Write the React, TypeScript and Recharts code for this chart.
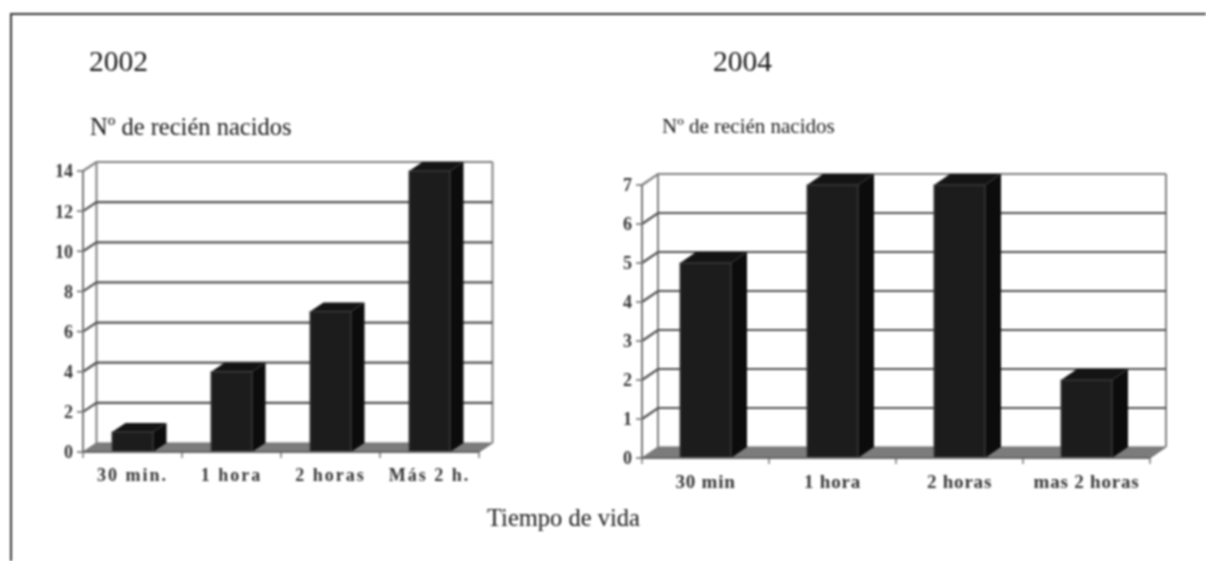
import React from 'react';
import { ComposedChart, Bar, XAxis, YAxis, CartesianGrid } from 'recharts';

const categories2002 = ['30 min.', '1 hora', '2 horas', 'Más 2 h.'];
const values2002 = [1, 4, 7, 14];
const ticks2002 = [0, 2, 4, 6, 8, 10, 12, 14];
const categories2004 = ['30 min', '1 hora', '2 horas', 'mas 2 horas'];
const values2004 = [5, 7, 7, 2];
const ticks2004 = [0, 1, 2, 3, 4, 5, 6, 7];

const SERIF = '"Liberation Serif", "Times New Roman", serif';
const GRID = '#505050';
const WALL = '#808080';

type PanelProps = {
  categories: string[]; values: number[]; ticks: number[];
  left: number; top: number; width: number; height: number;
  axisW: number; bottomH: number; marginTop: number; marginRight: number;
  dx: number; dy: number; barW: number; xFont: number; xSpacing: number; yFont: number; labelDy: number;
};

function Panel(p: PanelProps) {
  const { dx, dy } = p;
  const data = p.categories.map((name, i) => ({ name, value: p.values[i] }));
  const gridLine = (g: any) => {
    const y1 = g.y1, x1 = g.x1, x2 = g.x2;
    const isBottom = Math.abs(y1 - (g.y + g.height)) < 1;
    const isTop = Math.abs(y1 - g.y) < 1;
    return (
      <g key={g.key}>
        {isBottom && (
          <polygon
            points={`${x1},${y1} ${x2},${y1} ${x2 + dx},${y1 - dy} ${x1 + dx},${y1 - dy}`}
            fill="#7c7c7c"
            stroke="#6a6a6a"
          />
        )}
        {isBottom && (
          <g stroke={WALL} strokeWidth={2} fill="none">
            <line x1={x1 + dx} y1={y1 - dy} x2={x1 + dx} y2={g.y - dy} />
            <line x1={x2 + dx} y1={y1 - dy} x2={x2 + dx} y2={g.y - dy} />
          </g>
        )}
        <polyline
          points={`${x1},${y1} ${x1 + dx},${y1 - dy} ${x2 + dx},${y1 - dy}`}
          fill="none"
          stroke={isTop ? WALL : isBottom ? 'none' : GRID}
          strokeWidth={2.2}
        />
      </g>
    );
  };
  const barShape = (b: any) => {
    const { x, y, width, height } = b;
    return (
      <g>
        <polygon points={`${x},${y} ${x + width},${y} ${x + width + dx},${y - dy} ${x + dx},${y - dy}`} fill="#141414" />
        <polygon points={`${x + width},${y} ${x + width + dx},${y - dy} ${x + width + dx},${y + height - dy} ${x + width},${y + height}`} fill="#0c0c0c" />
        <rect x={x} y={y} width={width} height={height} fill="#1c1c1c" stroke="#484848" strokeWidth={1} />
      </g>
    );
  };
  const plotW = p.width - p.axisW - p.marginRight;
  const band = plotW / p.categories.length;
  const xTick = (t: any) => (
    <g>
      <line x1={t.x - band / 2} y1={t.y - 8} x2={t.x - band / 2} y2={t.y - 2} stroke="#555" strokeWidth={1.2} />
      {t.index === p.categories.length - 1 && (
        <line x1={t.x + band / 2} y1={t.y - 8} x2={t.x + band / 2} y2={t.y - 2} stroke="#555" strokeWidth={1.2} />
      )}
      <text x={t.x} y={t.y + p.labelDy} textAnchor="middle" fontFamily={SERIF} fontWeight="bold" fontSize={p.xFont} letterSpacing={p.xSpacing} fill="#333">
        {t.payload.value}
      </text>
    </g>
  );
  return (
    <div style={{ position: 'absolute', left: p.left, top: p.top }}>
      <ComposedChart
        width={p.width}
        height={p.height}
        data={data}
        margin={{ top: p.marginTop, right: p.marginRight, bottom: 0, left: 0 }}
        barSize={p.barW}
      >
        <CartesianGrid vertical={false} horizontal={gridLine as any} />
        <XAxis
          dataKey="name"
          height={p.bottomH}
          interval={0}
          tickLine={false}
          axisLine={{ stroke: '#666', strokeWidth: 2 }}
          tick={xTick as any}
        />
        <YAxis
          width={p.axisW}
          domain={[0, p.ticks[p.ticks.length - 1]]}
          ticks={p.ticks}
          interval={0}
          tickSize={6}
          tickMargin={4}
          tickLine={{ stroke: '#666', strokeWidth: 1.5 }}
          axisLine={{ stroke: '#777', strokeWidth: 2 }}
          tick={{ fontFamily: SERIF, fontSize: p.yFont, fontWeight: 'bold', fill: '#333' }}
        />
        <Bar dataKey="value" isAnimationActive={false} shape={barShape as any} />
      </ComposedChart>
    </div>
  );
}

const textStyle: React.CSSProperties = { position: 'absolute', fontFamily: SERIF, color: '#1a1a1a', whiteSpace: 'nowrap', lineHeight: 1 };

export default function App() {
  return (
    <div style={{ position: 'absolute', left: 0, top: 0, width: 1206, height: 561, overflow: 'hidden', background: '#fff' }}>
      <div style={{ position: 'absolute', inset: 0, filter: 'blur(0.8px)' }}>
        <div style={{ position: 'absolute', left: 10, top: 12.5, width: 1196, height: 2, background: '#333' }} />
        <div style={{ position: 'absolute', left: 10, top: 13, width: 2, height: 548, background: '#333' }} />
        <div style={{ ...textStyle, left: 89, top: 47, fontSize: 29.5 }}>2002</div>
        <div style={{ ...textStyle, left: 713, top: 47, fontSize: 29.5 }}>2004</div>
        <div style={{ ...textStyle, left: 90, top: 115, fontSize: 24.5 }}>Nº de recién nacidos</div>
        <div style={{ ...textStyle, left: 662, top: 116, fontSize: 21 }}>Nº de recién nacidos</div>
        <div style={{ ...textStyle, left: 487, top: 506, fontSize: 24.5 }}>Tiempo de vida</div>
        <Panel
          categories={categories2002} values={values2002} ticks={ticks2002}
          left={0} top={150} width={520} height={340}
          axisW={83} bottomH={38} marginTop={21} marginRight={41}
          dx={13.5} dy={9} barW={41} xFont={18} xSpacing={2} yFont={18} labelDy={21}
        />
        <Panel
          categories={categories2004} values={values2004} ticks={ticks2004}
          left={600} top={160} width={580} height={340}
          axisW={42} bottomH={42} marginTop={25} marginRight={30}
          dx={16} dy={11} barW={51} xFont={19} xSpacing={0.8} yFont={18} labelDy={22}
        />
      </div>
    </div>
  );
}
